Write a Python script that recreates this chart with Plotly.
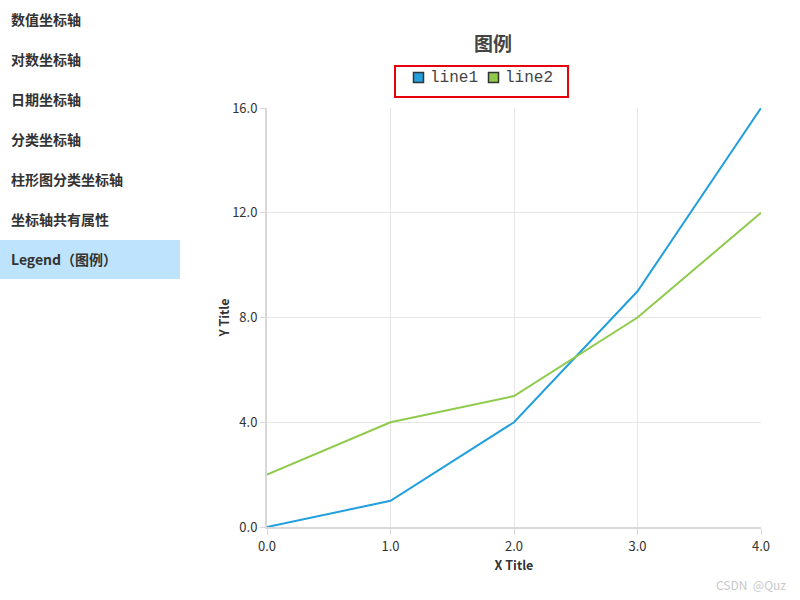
import plotly.graph_objects as go

x_vals = [0, 1, 2, 3, 4]
line1 = [0, 1, 4, 9, 16]
line2 = [2, 4, 5, 8, 12]
series_names = ["line1", "line2"]
series_colors = ["#229fdd", "#8fca4c"]
menu_items = ["数值坐标轴", "对数坐标轴", "日期坐标轴", "分类坐标轴", "柱形图分类坐标轴", "坐标轴共有属性", "Legend（图例）"]
y_ticks = [0, 4, 8, 12, 16]

W, H = 800, 600
L, R, T, B = 267, 761, 108, 527
pw, ph = R - L, B - T

def px(x):
    return (x - L) / pw

def py(y):
    return (B - y) / ph

FONT = "Noto Sans CJK SC, Noto Sans, sans-serif"

fig = go.Figure()
for name, ys, c in zip(series_names, [line1, line2], series_colors):
    fig.add_trace(go.Scatter(x=x_vals, y=ys, mode="lines", name=name,
                             line=dict(color=c, width=2), showlegend=False, hoverinfo="x+y"))

shapes = []
annotations = []
# sidebar highlight
shapes.append(dict(type="rect", xref="paper", yref="paper",
                   x0=px(0), x1=px(180), y0=py(279), y1=py(240),
                   fillcolor="#bde3fd", line=dict(width=0), layer="below"))
for i, item in enumerate(menu_items):
    annotations.append(dict(text=f"<b>{item}</b>", xref="paper", yref="paper",
                            x=px(9), y=py(19 + 40 * i), xanchor="left", yanchor="middle",
                            showarrow=False, font=dict(size=14, color="#333", family=FONT)))
# legend frame
shapes.append(dict(type="rect", xref="paper", yref="paper",
                   x0=px(395), x1=px(568), y0=py(97), y1=py(66),
                   line=dict(color="#e8000b", width=2), fillcolor="rgba(0,0,0,0)"))
# legend entries
leg_x = [413, 488]
for name, c, lx in zip(series_names, series_colors, leg_x):
    shapes.append(dict(type="rect", xref="paper", yref="paper",
                       x0=px(lx + 0.5), x1=px(lx + 10.5), y0=py(82.5), y1=py(72.5),
                       fillcolor=c, line=dict(color="#333", width=1.5)))
    annotations.append(dict(text=name, xref="paper", yref="paper",
                            x=px(lx + 15), y=py(78), xanchor="left", yanchor="middle",
                            showarrow=False,
                            font=dict(size=16, color="#444",
                                      family="Liberation Mono, Courier New, monospace")))
# title
annotations.append(dict(text="<b>图例</b>", xref="paper", yref="paper",
                        x=px(493), y=py(42), xanchor="center", yanchor="middle",
                        showarrow=False, font=dict(size=19, color="#444", family=FONT)))
annotations.append(dict(text="CSDN  @Quz", xref="paper", yref="paper",
                        x=px(788), y=py(584), xanchor="right", yanchor="middle",
                        showarrow=False, font=dict(size=12, color="#c8c8c8", family=FONT)))

fig.update_layout(
    width=W, height=H,
    margin=dict(l=L, r=W - R, t=T, b=H - B, pad=0),
    paper_bgcolor="white", plot_bgcolor="white",
    shapes=shapes, annotations=annotations,
    showlegend=False,
    font=dict(family=FONT, color="#333"),
    xaxis=dict(range=[0, 4], tickvals=x_vals, tickformat=".1f",
               showgrid=True, gridcolor="#e6e6e6", gridwidth=1,
               showline=True, linecolor="#d8d8d8", linewidth=2,
               ticks="outside", ticklen=6, tickcolor="#d8d8d8",
               zeroline=False, tickfont=dict(size=13, color="#333"),
               title=dict(text="<b>X Title</b>", font=dict(size=12.5, color="#333"), standoff=0)),
    yaxis=dict(range=[0, 16], tickvals=y_ticks, tickformat=".1f",
               showgrid=True, gridcolor="#e6e6e6", gridwidth=1,
               showline=True, linecolor="#d8d8d8", linewidth=2,
               ticks="outside", ticklen=5, tickcolor="#d8d8d8",
               zeroline=False, tickfont=dict(size=13, color="#333"),
               title=dict(text="<b>Y Title</b>", font=dict(size=12.5, color="#333"), standoff=0)),
)

fig.write_html("out.html", config={"displayModeBar": False},
               post_script="document.body.style.margin='0';document.body.style.padding='0';")
